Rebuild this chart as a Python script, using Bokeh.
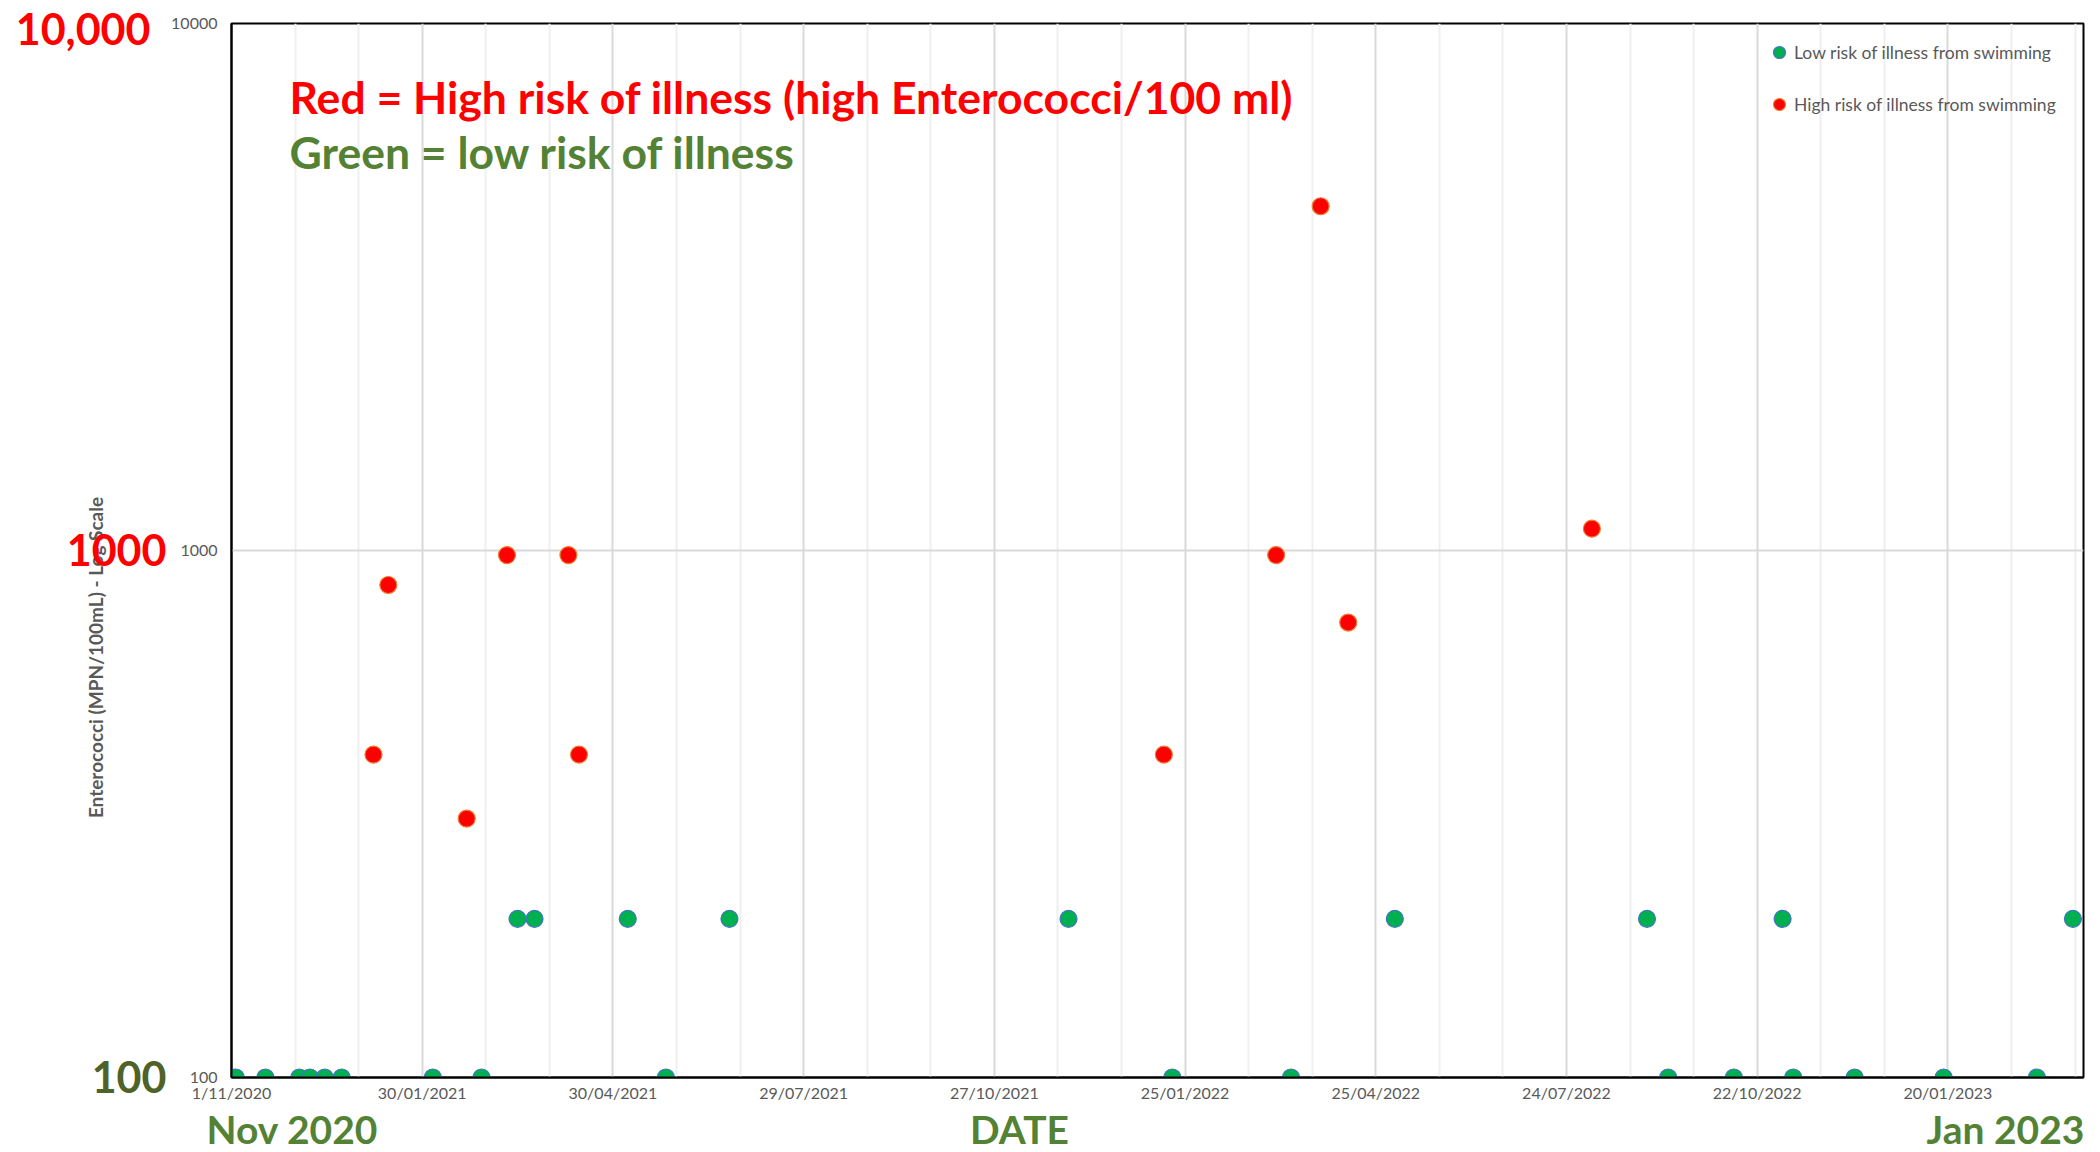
import math
from datetime import datetime, timedelta
import pandas as pd
from bokeh.plotting import figure
from bokeh.layouts import column, row
from bokeh.models import (Range1d, FixedTicker, Label, Legend, LegendItem,
                          BasicTickFormatter, ColumnDataSource)
from bokeh.core.properties import value
from bokeh.embed import file_html
from bokeh.resources import INLINE

# ---------------- data ----------------
low_dates = ["2020-11-03", "2020-11-17", "2020-12-03", "2020-12-08", "2020-12-15",
             "2020-12-23", "2021-02-04", "2021-02-27", "2021-03-16", "2021-03-24",
             "2021-05-07", "2021-05-25", "2021-06-24", "2021-12-01", "2022-01-19",
             "2022-03-16", "2022-05-04", "2022-08-31", "2022-09-10", "2022-10-11",
             "2022-11-03", "2022-11-08", "2022-12-07", "2023-01-18", "2023-03-03",
             "2023-03-20"]
low_values = [100, 100, 100, 100, 100,
              100, 100, 100, 200, 200,
              200, 100, 200, 200, 100,
              100, 200, 200, 100, 100,
              200, 100, 100, 100, 100,
              200]

high_dates = ["2021-01-07", "2021-01-14", "2021-02-20", "2021-03-11", "2021-04-09",
              "2021-04-14", "2022-01-15", "2022-03-09", "2022-03-30", "2022-04-12",
              "2022-08-05"]
high_values = [410, 860, 310, 980, 980,
               410, 410, 980, 4500, 730,
               1100]

x_tick_labels = ["1/11/2020", "30/01/2021", "30/04/2021", "29/07/2021", "27/10/2021",
                 "25/01/2022", "25/04/2022", "24/07/2022", "22/10/2022", "20/01/2023"]
y_tick_values = [100, 1000, 10000]

x_start = "2020-11-01"
x_end = "2023-03-25"

low_label = "Low risk of illness from swimming"
high_label = "High risk of illness from swimming"
y_title = "Enterococci (MPN/100mL) - Log Scale"
note_red = "Red = High risk of illness (high Enterococci/100 ml)"
note_green = "Green = low risk of illness"
big_y_texts = ["10,000", "1000", "100"]
big_y_colors = ["#FF0000", "#FF0000", "#4F6228"]
bottom_texts = ["Nov 2020", "DATE", "Jan 2023"]

# ---------------- helpers ----------------
EPOCH = datetime(1970, 1, 1)


def ms(d):
    return (d - EPOCH).total_seconds() * 1000.0


start_dt = datetime.strptime(x_start, "%Y-%m-%d")
end_dt = datetime.strptime(x_end, "%Y-%m-%d")
major_dts = [datetime.strptime(s, "%d/%m/%Y") for s in x_tick_labels]
major_ms = [ms(d) for d in major_dts]
minor_ms = []
d = start_dt
while d <= end_dt:
    if d not in major_dts:
        minor_ms.append(ms(d))
    d += timedelta(days=30)

low_src = ColumnDataSource(dict(x=pd.to_datetime(low_dates), y=low_values))
high_src = ColumnDataSource(dict(x=pd.to_datetime(high_dates), y=high_values))

W, H = 2100, 1152
LEFT_W = 167        # width of the left text strip
TOP_H = 1105        # height of the main figure

# ---------------- main figure ----------------
p = figure(x_axis_type="datetime", y_axis_type="log",
           width=W - LEFT_W, height=TOP_H,
           min_border_left=231 - LEFT_W, min_border_right=17,
           min_border_top=23, min_border_bottom=TOP_H - 1077,
           x_range=Range1d(ms(start_dt), ms(end_dt)),
           y_range=Range1d(100, 10000),
           output_backend="svg", toolbar_location=None)
p.frame_align = False

p.background_fill_color = "white"
p.border_fill_color = "white"
p.outline_line_color = "black"
p.outline_line_width = 2

p.xgrid.ticker = FixedTicker(ticks=major_ms, minor_ticks=minor_ms)
p.xgrid.grid_line_color = "#D9D9D9"
p.xgrid.grid_line_width = 2
p.xgrid.minor_grid_line_color = "#EFEFEF"
p.xgrid.minor_grid_line_width = 2
p.ygrid.ticker = FixedTicker(ticks=[1000], minor_ticks=[])
p.ygrid.grid_line_color = "#D9D9D9"
p.ygrid.grid_line_width = 2

p.xaxis.ticker = FixedTicker(ticks=major_ms, minor_ticks=[])
p.xaxis.major_label_overrides = {t: lab for t, lab in zip(major_ms, x_tick_labels)}
p.yaxis.ticker = FixedTicker(ticks=y_tick_values, minor_ticks=[])
p.yaxis.formatter = BasicTickFormatter(use_scientific=False)
for ax in (p.xaxis, p.yaxis):
    ax.axis_line_color = "black"
    ax.axis_line_width = 2
    ax.major_tick_line_color = None
    ax.minor_tick_line_color = None
    ax.major_tick_in = 0
    ax.major_tick_out = 0
    ax.minor_tick_in = 0
    ax.minor_tick_out = 0
    ax.major_label_text_font = "Lato"
    ax.major_label_text_color = "#595959"
p.xaxis.major_label_text_font_size = "16px"
p.xaxis.major_label_standoff = 5
p.yaxis.major_label_text_font_size = "16px"
p.yaxis.major_label_standoff = 14

r_low = p.scatter("x", "y", source=low_src, size=17, fill_color="#00B050",
                  line_color="#4472C4", line_width=1.2)
r_high = p.scatter("x", "y", source=high_src, size=17, fill_color="#FF0000",
                   line_color="#ED7D31", line_width=1.2)

legend = Legend(items=[LegendItem(label=low_label, renderers=[r_low]),
                       LegendItem(label=high_label, renderers=[r_high])],
                location=(1533, 958), padding=0, margin=0, spacing=22,
                glyph_width=30, glyph_height=30, label_standoff=0,
                label_text_font="Lato", label_text_font_size="17.5px",
                label_text_color="#595959", border_line_color=None,
                background_fill_alpha=0)
p.add_layout(legend)

for y, txt, col in [(981, note_red, "#FF0000"), (926, note_green, "#548235")]:
    p.add_layout(Label(x=58, y=y, x_units="screen", y_units="screen", text=txt,
                       text_font="Lato", text_font_style="bold",
                       text_font_size="44.5px", text_color=col,
                       text_align="left", text_baseline="middle"))


def text_strip(x0, y0, width, height):
    f = figure(width=width, height=height, x_range=Range1d(x0, x0 + width),
               y_range=Range1d(y0 + height, y0),
               min_border=0, output_backend="svg", toolbar_location=None,
               x_axis_location=None, y_axis_location=None)
    f.frame_align = False
    f.grid.visible = False
    f.outline_line_color = None
    f.background_fill_color = "white"
    f.border_fill_color = "white"
    return f


# ---------------- left strip: big axis values and axis title ----------------
left = text_strip(0, 0, LEFT_W, H)
left.text(x=[95], y=[657], text=[y_title], angle=math.pi / 2,
          text_font=value("Lato"), text_font_style="bold", text_font_size="19px",
          text_color="#595959", text_align="center", text_baseline="middle")
left.text(x=[150, 166, 166], y=[28, 549, 1076], text=big_y_texts,
          text_color=big_y_colors, text_font=value("Lato"), text_font_style="bold",
          text_font_size="43px", text_align="right", text_baseline="middle")

# ---------------- bottom strip: date range labels ----------------
bottom = text_strip(LEFT_W, TOP_H, W - LEFT_W, H - TOP_H)
bottom.text(x=[292, 1019, 2005], y=[1128.5, 1128.5, 1128.5], text=bottom_texts,
            text_font=value("Lato"), text_font_style="bold", text_font_size="39px",
            text_color="#548235", text_align="center", text_baseline="middle")

layout = row(left, column(p, bottom, spacing=0), spacing=0)

open("out.html", "w").write(file_html(layout, INLINE))
